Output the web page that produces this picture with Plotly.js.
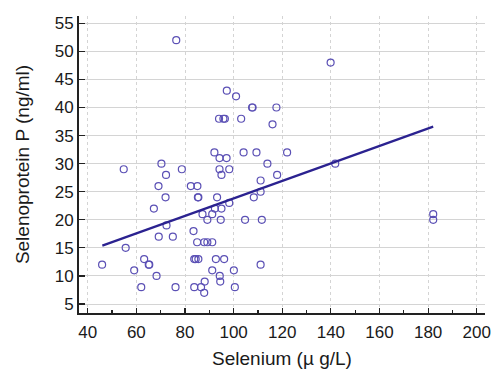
<!DOCTYPE html>
<html>
<head>
<meta charset="utf-8">
<script src="https://cdn.plot.ly/plotly-3.0.1.min.js"></script>
<style>html,body{margin:0;padding:0;background:#fff;}#chart{width:494px;height:369px;}</style>
</head>
<body>
<div id="chart"></div>
<script>
// Selenium (µg/L)
var seleniumX = [76.4, 139.9, 97.2, 101.0, 107.6, 107.8, 117.6, 94.0, 95.8, 96.4, 103.1, 116.0,
  92.1, 104.1, 109.4, 122.0, 94.2, 97.1, 70.3, 113.9, 141.8, 54.8, 78.7, 94.2, 98.2,
  72.2, 95.0, 117.9, 69.1, 82.4, 85.1, 111.1, 111.1, 72.0, 85.3, 85.5, 93.2, 108.3,
  67.2, 92.3, 95.0, 98.2, 87.2, 91.2, 89.2, 94.7, 104.7, 111.6, 182.1, 182.1,
  72.4, 83.5, 69.2, 75.0, 55.6, 85.0, 87.9, 89.2, 91.2,
  63.2, 83.8, 84.4, 85.5, 92.7, 96.1, 45.9, 65.1, 65.3, 111.1, 59.1, 91.2, 100.1,
  68.3, 94.3, 88.1, 94.5, 62.0, 76.1, 83.8, 86.6, 100.5, 87.9];
// Selenoprotein P (ng/ml)
var selenoproteinP = [52, 48, 43, 42, 40, 40, 40, 38, 38, 38, 38, 37,
  32, 32, 32, 32, 31, 31, 30, 30, 30, 29, 29, 29, 29,
  28, 28, 28, 26, 26, 26, 27, 25, 24, 24, 24, 24, 24,
  22, 22, 22, 23, 21, 21, 20, 20, 20, 20, 21, 20,
  19, 18, 17, 17, 15, 16, 16, 16, 16,
  13, 13, 13, 13, 13, 13, 12, 12, 12, 12, 11, 11, 11,
  10, 10, 9, 9, 8, 8, 8, 8, 8, 7];
// Regression line end points
var fitX = [46.0, 182.1];
var fitY = [15.4, 36.6];

var xTickVals = [40, 60, 80, 100, 120, 140, 160, 180, 200];
var yTickVals = [5, 10, 15, 20, 25, 30, 35, 40, 45, 50, 55];

var traces = [
  {
    x: seleniumX, y: selenoproteinP, type: 'scatter', mode: 'markers',
    marker: {symbol: 'circle-open', size: 7, color: '#5b50b5', line: {width: 1.2, color: '#5b50b5'}},
    hoverinfo: 'x+y', showlegend: false
  },
  {
    x: fitX, y: fitY, type: 'scatter', mode: 'lines',
    line: {color: '#2b2290', width: 2.2}, showlegend: false, hoverinfo: 'skip'
  }
];

var layout = {
  width: 494, height: 369,
  margin: {l: 79, r: 9, t: 16, b: 56},
  paper_bgcolor: '#ffffff', plot_bgcolor: '#ffffff',
  font: {family: 'Liberation Sans, Arial, sans-serif', color: '#1a1a1a', size: 17},
  xaxis: {
    range: [36.4, 203.4], tickvals: xTickVals, ticktext: xTickVals.map(String),
    showgrid: true, gridcolor: '#d4d4d4', gridwidth: 1, griddash: 'dot',
    zeroline: false, showline: true, linecolor: '#222', linewidth: 2,
    ticks: 'inside', ticklen: 5, tickwidth: 1.2, tickcolor: '#222',
    minor: {dtick: 10, tick0: 40, ticks: 'inside', ticklen: 3, tickcolor: '#222', showgrid: false},
    tickfont: {size: 17, color: '#1a1a1a'}, ticklabelstandoff: 3,
    title: {text: 'Selenium (\u00b5 g/L)', font: {size: 19, color: '#1a1a1a'}, standoff: 12}
  },
  yaxis: {
    range: [3.4, 56.3], tickvals: yTickVals, ticktext: yTickVals.map(String),
    showgrid: true, gridcolor: '#d4d4d4', gridwidth: 1,
    zeroline: false, showline: true, linecolor: '#222', linewidth: 2,
    ticks: 'inside', ticklen: 6, tickwidth: 1.2, tickcolor: '#222',
    tickfont: {size: 17, color: '#1a1a1a'},
    title: {text: 'Selenoprotein P (ng/ml)', font: {size: 19, color: '#1a1a1a'}, standoff: 20}
  }
};

Plotly.newPlot('chart', traces, layout, {displayModeBar: false, staticPlot: true});
</script>
</body>
</html>
